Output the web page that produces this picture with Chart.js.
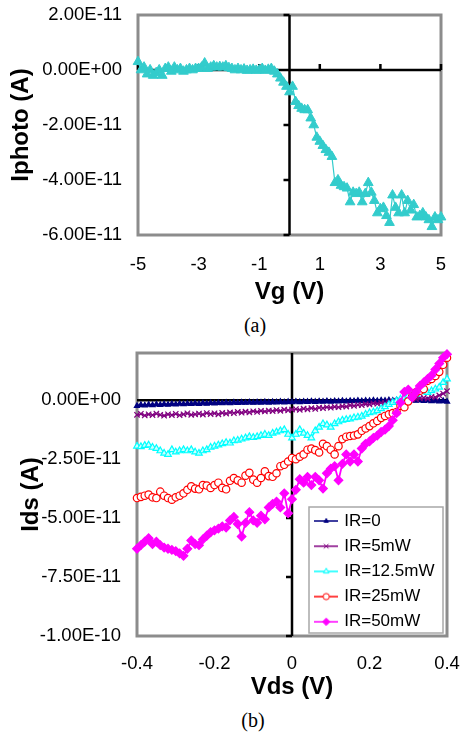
<!DOCTYPE html>
<html>
<head>
<meta charset="utf-8">
<script src="https://cdn.jsdelivr.net/npm/chart.js@4.4.1/dist/chart.umd.min.js"></script>
<style>
    html, body { margin: 0; padding: 0; background: #fff; }
    body { width: 460px; height: 732px; position: relative; overflow: hidden; }
    .panel { position: absolute; left: 0; }
    .panel canvas { display: block; }
    .caption {
        position: absolute;
        width: 60px;
        text-align: center;
        font-family: "Liberation Serif", "DejaVu Serif", serif;
        font-size: 20px;
        line-height: 24px;
        color: #000;
    }
</style>
</head>
<body>
<div class="panel" style="top:0"><canvas id="chartA" width="460" height="310"></canvas></div>
<div class="caption" style="left:225px; top:313px">(a)</div>
<div class="panel" style="top:335px"><canvas id="chartB" width="460" height="370"></canvas></div>
<div class="caption" style="left:223px; top:708px">(b)</div>

<script>
// (a) photocurrent vs gate voltage, currents in units of 1e-11 A
const vg = [
    -5.0, -4.9, -4.8, -4.7, -4.6, -4.5, -4.4, -4.3, -4.2, -4.1,
    -4.0, -3.9, -3.8, -3.7, -3.6, -3.5, -3.4, -3.3, -3.2, -3.1,
    -3.0, -2.9, -2.8, -2.7, -2.6, -2.5, -2.4, -2.3, -2.2, -2.1,
    -2.0, -1.9, -1.8, -1.7, -1.6, -1.5, -1.4, -1.3, -1.2, -1.1,
    -1.0, -0.9, -0.8, -0.7, -0.6, -0.5, -0.4, -0.3, -0.2, -0.1,
    0.0, 0.1, 0.2, 0.3, 0.4, 0.5, 0.6, 0.7, 0.8, 0.9,
    1.0, 1.1, 1.2, 1.3, 1.4, 1.5, 1.6, 1.7, 1.8, 1.9,
    2.0, 2.1, 2.2, 2.3, 2.4, 2.5, 2.6, 2.7, 2.8, 2.9,
    3.0, 3.1, 3.2, 3.3, 3.4, 3.5, 3.6, 3.7, 3.8, 3.9,
    4.0, 4.1, 4.2, 4.3, 4.4, 4.5, 4.6, 4.7, 4.8, 4.9, 5.0
];
const iphoto = [
    0.3, 0.0, 0.1, -0.15, 0.0, -0.2, -0.1, 0.0, -0.2, 0.05,
    0.1, -0.05, 0.1, 0.0, 0.05, -0.05, 0.0, 0.05, 0.0, 0.05,
    0.05, 0.1, 0.25, 0.05, 0.1, 0.15, 0.1, 0.12, 0.1, 0.15,
    0.08, 0.05, 0.0, 0.05, 0.0, 0.03, -0.02, 0.0, 0.02, -0.02,
    0.0, 0.05, -0.02, 0.02, 0.05, -0.05, -0.15, -0.3, -0.45, -0.6,
    -0.8, -0.6, -1.15, -1.3, -1.4, -1.45, -1.45, -1.75, -2.0, -2.45,
    -2.6, -2.75, -2.9, -3.0, -3.15, -4.1, -4.0, -4.2, -4.25, -4.3,
    -4.8, -4.45, -4.5, -4.45, -4.8, -4.5, -4.1, -4.45, -4.75, -5.2,
    -5.05, -5.0, -5.3, -5.55, -4.55, -5.0, -5.2, -4.55, -5.2, -4.75,
    -5.1, -4.9, -5.35, -5.3, -5.2, -5.35, -5.45, -5.7, -5.35, -5.45, -5.35
];
const vg_ticks = [-5, -3, -1, 1, 3, 5];
const iphoto_ticks = [2, 0, -2, -4, -6];

// (b) drain current vs drain voltage for five IR powers, units of 1e-11 A
const vds = [
    -0.40, -0.39, -0.38, -0.37, -0.36, -0.35, -0.34, -0.33, -0.32, -0.31,
    -0.30, -0.29, -0.28, -0.27, -0.26, -0.25, -0.24, -0.23, -0.22, -0.21,
    -0.20, -0.19, -0.18, -0.17, -0.16, -0.15, -0.14, -0.13, -0.12, -0.11,
    -0.10, -0.09, -0.08, -0.07, -0.06, -0.05, -0.04, -0.03, -0.02, -0.01,
    0.00, 0.01, 0.02, 0.03, 0.04, 0.05, 0.06, 0.07, 0.08, 0.09,
    0.10, 0.11, 0.12, 0.13, 0.14, 0.15, 0.16, 0.17, 0.18, 0.19,
    0.20, 0.21, 0.22, 0.23, 0.24, 0.25, 0.26, 0.27, 0.28, 0.29,
    0.30, 0.31, 0.32, 0.33, 0.34, 0.35, 0.36, 0.37, 0.38, 0.39, 0.40
];
const ids_ir0 = [
    -0.24, -0.2, -0.22, -0.19, -0.21, -0.18, -0.2, -0.17, -0.19, -0.16,
    -0.18, -0.15, -0.17, -0.15, -0.16, -0.14, -0.16, -0.13, -0.15, -0.12,
    -0.14, -0.12, -0.13, -0.11, -0.13, -0.1, -0.12, -0.1, -0.11, -0.09,
    -0.11, -0.09, -0.1, -0.08, -0.1, -0.08, -0.09, -0.07, -0.09, -0.07,
    -0.08, -0.06, -0.08, -0.06, -0.07, -0.05, -0.07, -0.05, -0.06, -0.04,
    -0.06, -0.04, -0.05, -0.03, -0.05, -0.03, -0.04, -0.02, -0.04, -0.02,
    -0.03, -0.01, -0.03, -0.01, -0.02, 0.0, -0.02, 0.0, -0.01, 0.01,
    -0.01, 0.0, -0.02, 0.0, -0.03, -0.01, -0.04, -0.02, -0.05, -0.03, -0.06
];
const ids_ir5 = [
    -0.62, -0.58, -0.65, -0.6, -0.63, -0.57, -0.62, -0.66, -0.6, -0.63,
    -0.58, -0.64, -0.6, -0.56, -0.62, -0.6, -0.57, -0.61, -0.55, -0.59,
    -0.56, -0.6, -0.54, -0.57, -0.52, -0.55, -0.5, -0.53, -0.49, -0.52,
    -0.47, -0.5, -0.45, -0.48, -0.44, -0.46, -0.42, -0.45, -0.4, -0.43,
    -0.4, -0.38, -0.41, -0.36, -0.39, -0.34, -0.37, -0.32, -0.34, -0.3,
    -0.32, -0.28, -0.3, -0.26, -0.27, -0.22, -0.24, -0.2, -0.21, -0.17,
    -0.18, -0.14, -0.15, -0.11, -0.12, -0.07, -0.06, -0.03, -0.04, 0.0,
    0.02, 0.05, 0.04, 0.08, 0.1, 0.07, 0.14, 0.12, 0.2, 0.28, 0.38
];
const ids_ir12 = [
    -1.95, -1.97, -1.92, -1.9, -2.0, -2.05, -2.15, -2.25, -2.3, -2.1,
    -2.2, -2.15, -2.1, -2.15, -2.1, -2.2, -2.25, -2.15, -2.1, -2.0,
    -1.95, -1.9, -1.85, -1.8, -1.82, -1.72, -1.7, -1.65, -1.6, -1.55,
    -1.58, -1.55, -1.5, -1.45, -1.5, -1.4, -1.35, -1.3, -1.25, -1.45,
    -1.6, -1.45, -1.25, -1.4, -1.5, -1.6, -1.3, -1.15, -1.0, -1.05,
    -1.15, -1.0, -0.92, -0.85, -0.82, -0.8, -0.75, -0.72, -0.68, -0.6,
    -0.53, -0.5, -0.45, -0.36, -0.28, -0.18, -0.1, -0.03, 0.05, 0.12,
    0.18, 0.22, 0.26, 0.36, 0.4, 0.33, 0.4, 0.47, 0.55, 0.75, 0.9
];
const ids_ir25 = [
    -4.15, -4.1, -4.05, -4.0, -4.12, -4.15, -3.88, -4.05, -4.15, -4.22,
    -4.12, -4.05, -3.95, -3.8, -3.65, -3.75, -3.78, -3.6, -3.62, -3.72,
    -3.6, -3.5, -3.72, -3.78, -3.42, -3.3, -3.4, -3.5, -3.2, -3.08,
    -3.37, -3.5, -3.3, -3.02, -3.22, -3.25, -3.1, -2.8, -2.74, -2.6,
    -2.45, -2.5, -2.4, -2.3, -2.1, -2.05, -2.12, -2.22, -1.85, -1.95,
    -2.1, -2.3, -1.95, -1.65, -1.55, -1.52, -1.5, -1.45, -1.3, -1.2,
    -1.1, -0.98, -0.88, -0.75, -0.67, -0.6, -0.55, -0.5, -0.24, -0.3,
    -0.05, 0.15, 0.33, 0.4, 0.47, 0.82, 0.9, 1.03, 1.2, 1.5, 1.8
];
const ids_ir50 = [
    -6.3, -6.15, -6.0, -5.85, -6.1, -6.0, -6.15, -6.25, -6.3, -6.35,
    -6.4, -6.5, -6.6, -6.3, -5.95, -6.1, -6.15, -5.9, -5.75, -5.6,
    -5.52, -5.45, -5.35, -5.4, -5.1, -4.95, -5.25, -5.78, -5.2, -4.75,
    -5.1, -5.2, -4.9, -5.05, -4.55, -4.4, -4.3, -4.55, -3.95, -4.8,
    -4.2, -3.8, -3.35, -3.5, -3.25, -3.6, -3.25, -3.4, -3.75, -3.1,
    -2.9, -2.8, -3.4, -2.7, -2.3, -2.6, -2.3, -2.6, -2.05, -1.85,
    -1.75, -1.6, -1.5, -1.35, -1.25, -1.1, -0.85, -0.55, -0.1, 0.35,
    0.45, 0.12, 0.35, 0.6, 0.75, 0.9, 1.05, 1.3, 1.55, 1.8, 1.95
];
const ir_labels = ["IR=0", "IR=5mW", "IR=12.5mW", "IR=25mW", "IR=50mW"];
const vds_ticks = [-0.4, -0.2, 0, 0.2, 0.4];
const ids_ticks = [0, -2.5, -5, -7.5, -10];

const FONT = "'Liberation Sans', Arial, sans-serif";
Chart.defaults.color = "#000";
Chart.defaults.font.family = FONT;

// Excel style label: 0.00E+00, -2.50E-11 ...
function sciLabel(v) {
    const s = (v * 1e-11).toExponential(2);
    return s.replace(/e([+-])(\d+)$/, (m, sign, exp) => "E" + sign + exp.padStart(2, "0"));
}

function xy(xs, ys) {
    return xs.map((x, i) => ({ x: x, y: ys[i] }));
}

// hidden grid; the (invisible) tick length only pushes the labels away from the plot
function labelGap(px) {
    return { display: false, drawTicks: true, tickLength: px };
}

// gray frame plus black axes crossing at zero, Excel look
const crossAxes = {
    id: "crossAxes",
    beforeDatasetsDraw(chart, args, opts) {
        const { ctx, chartArea: a, scales: { x, y } } = chart;
        const x0 = x.getPixelForValue(0);
        const y0 = y.getPixelForValue(0);
        ctx.save();
        ctx.strokeStyle = "#8c8c8c";
        ctx.lineWidth = 3;
        ctx.strokeRect(a.left, a.top, a.width, a.height);
        ctx.strokeStyle = "#000";
        ctx.lineWidth = 2.5;
        ctx.beginPath();
        ctx.moveTo(x0, a.top);
        ctx.lineTo(x0, a.bottom);
        ctx.moveTo(a.left, y0);
        ctx.lineTo(a.right, y0);
        y.ticks.forEach(t => {
            const p = y.getPixelForValue(t.value);
            ctx.moveTo(x0 - 6, p);
            ctx.lineTo(x0, p);
        });
        x.ticks.forEach(t => {
            const p = x.getPixelForValue(t.value);
            ctx.moveTo(p, y0 - (opts.xTick || 0));
            ctx.lineTo(p, y0);
        });
        ctx.stroke();
        ctx.restore();
    }
};

// legend sits inside the plot, bottom right, with a thin frame
const legendFrame = {
    id: "legendFrame",
    afterLayout(chart) {
        const lg = chart.legend;
        const a = chart.chartArea;
        lg.left = a.right - 138.5;
        lg.right = a.right;
        lg.bottom = a.bottom + 2.5;
    },
    afterDraw(chart) {
        const a = chart.chartArea;
        const ctx = chart.ctx;
        ctx.save();
        ctx.strokeStyle = "#a8a8a8";
        ctx.lineWidth = 1.5;
        ctx.strokeRect(a.right - 138, a.bottom - 129, 134, 126);
        ctx.restore();
    }
};

// small line + marker icon for each legend entry
function legendIcon(color, style, radius, fill) {
    const c = document.createElement("canvas");
    c.width = 24;
    c.height = 12;
    const g = c.getContext("2d");
    g.strokeStyle = color;
    g.lineWidth = 1.5;
    g.beginPath();
    g.moveTo(0, 6);
    g.lineTo(24, 6);
    g.stroke();
    g.fillStyle = fill;
    g.lineWidth = 1;
    if (Chart.helpers && Chart.helpers.drawPoint) {
        Chart.helpers.drawPoint(g, { pointStyle: style, radius: radius * 0.85, rotation: 0, borderWidth: 1 }, 12, 6);
    } else {
        g.beginPath();
        g.arc(12, 6, radius, 0, Math.PI * 2);
        g.fill();
        g.stroke();
    }
    return c;
}

const ir_styles = [
    { color: "#000080", fill: "#000080", style: "triangle", radius: 3, width: 1.8 },
    { color: "#800080", fill: "#800080", style: "crossRot", radius: 3.8, width: 1.3 },
    { color: "#00ffff", fill: "#ccffff", style: "triangle", radius: 3.8, width: 1.6 },
    { color: "#ff0000", fill: "#ffffff", style: "circle", radius: 3.7, width: 1.4 },
    { color: "#ff00ff", fill: "#ff00ff", style: "rectRot", radius: 4.3, width: 1.8 }
];
const ir_series = [ids_ir0, ids_ir5, ids_ir12, ids_ir25, ids_ir50];
const legend_icons = ir_styles.map(s => legendIcon(s.color, s.style, s.radius, s.fill));

const tickFont = { family: FONT, size: 18.5 };
const titleFont = { family: FONT, size: 24, weight: "bold" };

new Chart(document.getElementById("chartA"), {
    type: "line",
    data: {
        datasets: [{
            label: "Iphoto",
            data: xy(vg, iphoto),
            borderColor: "#33cccc",
            backgroundColor: "#33cccc",
            borderWidth: 1.2,
            pointStyle: "triangle",
            pointRadius: 5.6,
            pointBorderWidth: 1,
            tension: 0,
            clip: false
        }]
    },
    options: {
        responsive: false,
        animation: false,
        events: [],
        layout: { padding: { left: 0, right: 19, top: 15, bottom: 0 } },
        plugins: {
            legend: { display: false },
            tooltip: { enabled: false },
            crossAxes: { xTick: 6 }
        },
        scales: {
            x: {
                type: "linear",
                min: -5,
                max: 5,
                afterBuildTicks: axis => { axis.ticks = vg_ticks.map(v => ({ value: v })); },
                afterFit: axis => { axis.height = 75; },
                grid: labelGap(19),
                border: { display: false },
                ticks: { font: tickFont, padding: 0, autoSkip: false, maxRotation: 0, callback: v => String(v) },
                title: { display: true, text: "Vg (V)", font: titleFont, padding: { top: 0, bottom: 3 } }
            },
            y: {
                type: "linear",
                min: -6,
                max: 2,
                afterBuildTicks: axis => { axis.ticks = iphoto_ticks.map(v => ({ value: v })); },
                afterFit: axis => { axis.width = 138; },
                grid: labelGap(16),
                border: { display: false },
                ticks: { font: tickFont, padding: 0, autoSkip: false, callback: v => sciLabel(v) },
                title: { display: true, text: "Iphoto (A)", font: titleFont, padding: { top: 7, bottom: 0 } }
            }
        }
    },
    plugins: [crossAxes]
});

new Chart(document.getElementById("chartB"), {
    type: "line",
    data: {
        datasets: ir_series.map((values, i) => ({
            label: ir_labels[i],
            data: xy(vds, values),
            borderColor: ir_styles[i].color,
            backgroundColor: ir_styles[i].fill,
            borderWidth: ir_styles[i].width,
            pointStyle: ir_styles[i].style,
            pointRadius: ir_styles[i].radius,
            pointBorderWidth: 1.2,
            tension: 0,
            clip: false,
            order: ir_series.length - 1 - i
        }))
    },
    options: {
        responsive: false,
        animation: false,
        events: [],
        layout: { padding: { left: 0, right: 13, top: 18, bottom: 0 } },
        plugins: {
            tooltip: { enabled: false },
            crossAxes: { xTick: 0 },
            legend: {
                position: "chartArea",
                align: "end",
                labels: {
                    usePointStyle: true,
                    pointStyleWidth: 19,
                    padding: 8.2,
                    color: "#000",
                    font: { family: FONT, size: 17 },
                    sort: (a, b) => a.datasetIndex - b.datasetIndex,
                    generateLabels: chart => Chart.defaults.plugins.legend.labels.generateLabels(chart)
                        .map(item => Object.assign(item, { pointStyle: legend_icons[item.datasetIndex] }))
                }
            }
        },
        scales: {
            x: {
                type: "linear",
                min: -0.4,
                max: 0.4,
                afterBuildTicks: axis => { axis.ticks = vds_ticks.map(v => ({ value: v })); },
                afterFit: axis => { axis.height = 69; },
                grid: labelGap(17),
                border: { display: false },
                ticks: { font: tickFont, padding: 0, autoSkip: false, maxRotation: 0, callback: v => String(v) },
                title: { display: true, text: "Vds (V)", font: titleFont, padding: { top: 0, bottom: 3 } }
            },
            y: {
                type: "linear",
                min: -10,
                max: 2,
                afterBuildTicks: axis => { axis.ticks = ids_ticks.map(v => ({ value: v })); },
                afterFit: axis => { axis.width = 137; },
                grid: labelGap(16),
                border: { display: false },
                ticks: { font: tickFont, padding: 0, autoSkip: false, callback: v => sciLabel(v) },
                title: { display: true, text: "Ids (A)", font: titleFont, padding: { top: 17, bottom: 0 } }
            }
        }
    },
    plugins: [crossAxes, legendFrame]
});
</script>
</body>
</html>
